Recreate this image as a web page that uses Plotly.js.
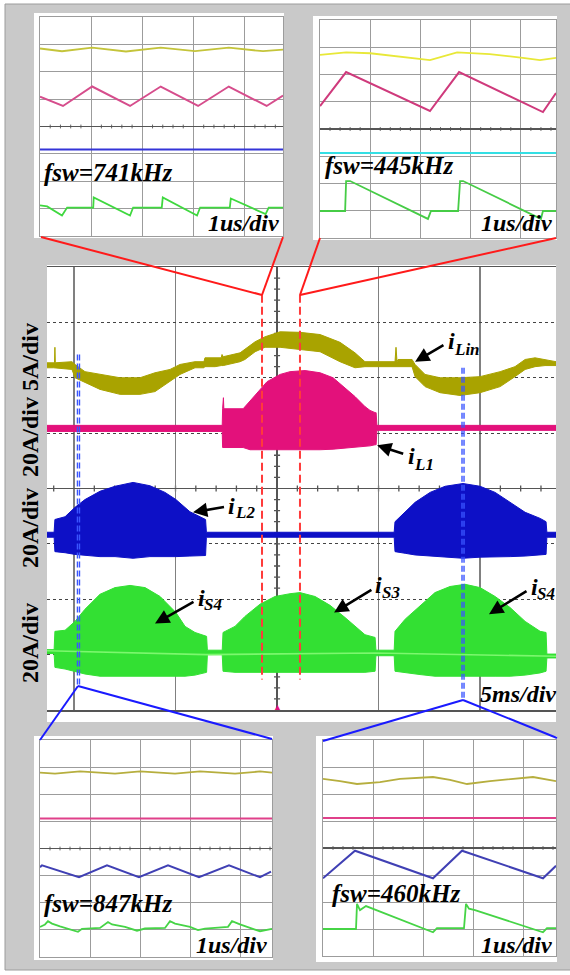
<!DOCTYPE html>
<html><head><meta charset="utf-8">
<script src="https://cdn.plot.ly/plotly-3.0.1.min.js"></script>
<style>html,body{margin:0;padding:0;background:#fff}#c{width:570px;height:975px}</style>
</head><body><div id="c"></div><script>
// ===== MAIN SCREEN: time in ms (5 ms/div, 0 = screen centre), amplitude in divisions =====
// i_Lin (5 A/div) envelope
const linT   = [-11.33,-11.0,-10.96,-10.94,-10.92,-10.10,-9.95,-9.46,-8.72,-7.73,-6.75,-6.01,-5.27,-4.78,-4.04,-3.60,-3.55,-3.05,-2.75,-2.71,-2.65,-1.82,-1.58,-1.08,-0.59,0.15,1.13,2.12,3.10,3.84,4.33,5.81,5.86,5.91,5.96,6.65,6.80,7.29,8.03,9.01,10.00,10.99,11.72,12.22,12.71,13.20,13.74];
const linTop = [2.27,2.27,2.27,2.55,2.27,2.29,2.24,2.11,2.06,2.00,2.00,2.09,2.15,2.24,2.29,2.29,2.36,2.36,2.36,2.42,2.38,2.45,2.51,2.65,2.74,2.83,2.82,2.78,2.64,2.45,2.29,2.29,2.55,2.29,2.33,2.33,2.24,2.06,2.00,2.00,2.02,2.11,2.20,2.33,2.36,2.33,2.29];
const linBot = [2.18,2.18,2.18,2.18,2.18,2.15,2.00,1.91,1.79,1.70,1.70,1.75,1.93,2.06,2.18,2.18,2.20,2.20,2.22,2.22,2.22,2.29,2.33,2.47,2.55,2.55,2.51,2.47,2.29,2.18,2.20,2.20,2.20,2.20,2.20,2.20,2.02,1.84,1.73,1.68,1.73,1.84,2.02,2.15,2.20,2.22,2.22];
// i_L1 (20 A/div) envelope
const l1T   = [-11.33,-2.70,-2.68,-2.64,-2.62,-1.67,-1.33,-0.49,0.15,0.64,1.38,2.12,2.76,3.35,3.84,4.33,4.58,4.83,4.88,4.92,13.74];
const l1Top = [1.14,1.14,1.44,1.64,1.44,1.44,1.58,1.93,2.06,2.11,2.13,2.09,2.00,1.82,1.66,1.48,1.41,1.37,1.37,1.14,1.14];
const l1Bot = [1.03,1.03,0.74,0.74,0.74,0.74,0.70,0.70,0.70,0.70,0.70,0.70,0.71,0.72,0.74,0.76,0.77,0.79,0.79,1.05,1.05];
// i_L2 (20 A/div) envelope
const l2T   = [-11.33,-10.98,-10.94,-10.44,-9.95,-9.46,-8.72,-7.98,-7.09,-6.26,-5.52,-4.98,-4.29,-3.94,-3.52,-3.48,5.77,5.81,6.31,6.80,7.54,8.28,9.16,10.00,10.74,11.48,12.22,12.96,13.25,13.29,13.74];
const l2Top = [-0.79,-0.79,-0.56,-0.51,-0.34,-0.20,-0.05,0.04,0.11,0.05,-0.07,-0.20,-0.42,-0.49,-0.56,-0.79,-0.79,-0.60,-0.42,-0.25,-0.07,0.04,0.09,0.04,-0.07,-0.25,-0.43,-0.54,-0.60,-0.79,-0.79];
const l2Bot = [-0.88,-0.88,-1.14,-1.16,-1.19,-1.21,-1.23,-1.23,-1.26,-1.23,-1.23,-1.23,-1.22,-1.21,-1.21,-0.88,-0.88,-1.14,-1.17,-1.20,-1.23,-1.24,-1.26,-1.24,-1.23,-1.23,-1.22,-1.20,-1.19,-0.88,-0.88];
// i_S4 / i_S3 / i_S4 (20 A/div) envelope
const sT   = [-11.33,-10.98,-10.94,-10.44,-9.95,-9.46,-8.72,-7.98,-7.24,-6.50,-5.76,-4.98,-4.53,-4.04,-3.47,-3.43,-2.70,-2.66,-2.07,-1.58,-0.84,-0.10,0.64,1.13,1.87,2.61,3.35,3.84,4.33,4.83,4.87,5.77,5.81,6.31,7.04,7.78,8.52,9.26,10.00,10.74,11.48,12.22,12.96,13.25,13.29,13.74];
const sTop = [-2.91,-2.91,-2.58,-2.56,-2.40,-2.18,-1.91,-1.79,-1.75,-1.79,-1.95,-2.24,-2.49,-2.60,-2.67,-2.92,-2.92,-2.60,-2.49,-2.31,-2.09,-1.95,-1.90,-1.88,-1.95,-2.11,-2.33,-2.49,-2.64,-2.69,-2.92,-2.92,-2.58,-2.36,-2.13,-1.88,-1.77,-1.73,-1.79,-1.95,-2.15,-2.40,-2.58,-2.60,-2.99,-2.99];
const sBot = [-2.98,-2.98,-3.23,-3.26,-3.30,-3.35,-3.39,-3.39,-3.39,-3.39,-3.39,-3.39,-3.39,-3.37,-3.32,-3.00,-3.00,-3.30,-3.32,-3.32,-3.32,-3.32,-3.32,-3.32,-3.32,-3.32,-3.32,-3.32,-3.32,-3.30,-3.02,-3.02,-3.30,-3.33,-3.36,-3.39,-3.39,-3.39,-3.39,-3.39,-3.39,-3.37,-3.33,-3.30,-3.06,-3.06];
const sMidT = [-11.33,-3.5,4.85,13.74];
const sMid  = [-2.93,-3.00,-2.97,-3.03];

// ===== ZOOM WINDOWS: time in us (1 us/div), amplitude in divisions =====
// top-left, fsw = 741 kHz
const aYT=[0,0.43,1.02,1.68,2.36,3.03,3.69,4.36,4.75], aY=[2.85,2.75,2.88,2.74,2.88,2.75,2.88,2.75,2.81];
const aPT=[0,0.45,1.02,1.76,2.36,3.09,3.69,4.43,4.75], aP=[1.09,0.75,1.46,0.75,1.46,0.75,1.46,0.75,1.13];
const aBT=[0,4.75], aB=[-0.84,-0.84];
const aGT=[0,0.14,0.43,0.53,1.04,1.05,1.76,1.82,2.38,2.40,3.07,3.13,3.71,3.73,4.41,4.47,4.75];
const aG =[-2.88,-2.92,-3.25,-2.96,-2.96,-2.59,-3.25,-2.96,-2.96,-2.59,-3.25,-2.96,-2.96,-2.63,-3.20,-2.96,-2.96];
// top-right, fsw = 445 kHz
const bYT=[0,0.52,1.00,1.73,2.19,2.73,3.38,4.04,4.38,4.70], bY=[2.72,2.81,2.78,2.64,2.53,2.81,2.75,2.61,2.53,2.61];
const bPT=[0,0.52,2.19,2.77,4.44,4.70], bP=[0.84,2.09,0.66,2.09,0.62,1.32];
const bCT=[0,4.70], bC=[-0.88,-0.88];
const bGT=[0,0.50,0.52,0.60,2.15,2.21,2.75,2.79,2.85,4.40,4.44,4.70];
const bG =[-3.01,-3.01,-1.91,-1.91,-3.30,-3.01,-3.01,-1.91,-1.91,-3.30,-3.01,-3.01];
// bottom-left, fsw = 847 kHz
const cYT=[0,0.30,0.80,1.50,2.00,2.70,3.20,3.90,4.40,4.64], cY=[2.80,2.76,2.84,2.76,2.84,2.76,2.84,2.76,2.84,2.80];
const cPT=[0,4.64], cP=[1.11,1.11];
const cBT=[0,0.04,0.78,1.34,1.98,2.56,3.18,3.78,4.40,4.62], cB=[-0.69,-0.62,-1.06,-0.62,-1.06,-0.62,-1.06,-0.62,-1.06,-0.85];
const cGT=[0,0.10,0.16,0.24,0.40,0.64,0.76,0.84,1.20,1.36,1.44,1.70,1.94,2.10,2.50,2.60,2.70,3.00,3.16,3.30,3.76,3.84,4.00,4.30,4.40,4.64];
const cG =[-2.89,-2.80,-2.68,-2.77,-2.87,-3.01,-3.07,-2.96,-2.93,-2.71,-2.80,-2.89,-3.03,-2.95,-2.93,-2.68,-2.77,-2.89,-3.01,-2.95,-2.89,-2.68,-2.80,-2.99,-3.05,-2.96];
// bottom-right, fsw = 460 kHz
const dYT=[0,0.34,0.68,1.14,1.54,2.20,2.54,2.88,3.34,4.20,4.66], dY=[2.56,2.48,2.37,2.44,2.56,2.63,2.52,2.37,2.48,2.63,2.48];
const dPT=[0,4.66], dP=[1.11,1.11];
const dBT=[0,0.64,2.20,2.78,4.40,4.66], dB=[-1.12,-0.10,-1.12,-0.10,-1.12,-0.66];
const dGT=[0,0.66,0.68,0.74,0.86,2.20,2.28,2.82,2.86,2.92,3.04,4.40,4.48,4.66];
const dG =[-3.00,-3.00,-2.07,-2.30,-2.15,-3.12,-2.97,-2.97,-2.07,-2.25,-2.30,-3.12,-2.97,-2.97];

// labels
const fswLabels = ['fsw=741kHz','fsw=445kHz','fsw=847kHz','fsw=460kHz'];
const divLabels = ['20A/div 5A/div','20A/div','20A/div'];
const sigSubs   = ['Lin','L1','L2','S4','S3','S4'];

// ===== drawing =====
const W=570,H=975;
const X=p=>p/W, Y=p=>1-p/H;
const SERIF='"Liberation Serif","Times New Roman",serif';
const C={lin:'#a9a300',l1:'#e3117b',l2:'#0d10c6',s:'#33e033',smid:'#7cf76e'};

function band(t,top,bot,color,xa,ya){
  return {x:t.concat(t.slice().reverse()), y:top.concat(bot.slice().reverse()),
    mode:'lines', fill:'toself', fillcolor:color, line:{color:color,width:1},
    xaxis:xa, yaxis:ya, hoverinfo:'skip'};
}
function line(t,v,color,xa,ya,w){
  return {x:t,y:v,mode:'lines',line:{color:color,width:w||2},xaxis:xa,yaxis:ya,hoverinfo:'skip'};
}
const data=[
  band(linT,linTop,linBot,C.lin,'x','y'),
  band(l1T,l1Top,l1Bot,C.l1,'x','y'),
  band(l2T,l2Top,l2Bot,C.l2,'x','y'),
  band(sT,sTop,sBot,C.s,'x','y'),
  line(sMidT,sMid,C.smid,'x','y',1.6),
  line(aYT,aY,'#c4c43a','x2','y2',1.8), line(aPT,aP,'#d64d8c','x2','y2',2), line(aBT,aB,'#3434d8','x2','y2',2), line(aGT,aG,'#3fd83f','x2','y2',1.8),
  line(bYT,bY,'#e8e838','x3','y3',1.8), line(bPT,bP,'#cf3a7c','x3','y3',2), line(bCT,bC,'#34dfe4','x3','y3',2), line(bGT,bG,'#46cc46','x3','y3',1.8),
  line(cYT,cY,'#b6ae3e','x4','y4',1.8), line(cPT,cP,'#e0408a','x4','y4',2), line(cBT,cB,'#4040b4','x4','y4',2), line(cGT,cG,'#46d446','x4','y4',1.8),
  line(dYT,dY,'#b6ae3e','x5','y5',1.8), line(dPT,dP,'#e0408a','x5','y5',2), line(dBT,dB,'#4040b4','x5','y5',2), line(dGT,dG,'#46d446','x5','y5',1.8)
];

function insetX(d,r){return {domain:d,range:r,tick0:0,dtick:1,showgrid:true,gridcolor:'#9c9c9c',gridwidth:1,
  zeroline:false,showline:true,linecolor:'#9c9c9c',mirror:true,showticklabels:false,ticks:'',fixedrange:true};}
function insetY(d,anchor){return {domain:d,range:[-4,4],tick0:0,dtick:1,showgrid:true,gridcolor:'#9c9c9c',gridwidth:1,
  zeroline:true,zerolinecolor:'#555',zerolinewidth:1.5,showline:true,linecolor:'#9c9c9c',mirror:true,showticklabels:false,ticks:'',anchor:anchor,fixedrange:true};}

const layout={
  width:W,height:H,margin:{l:0,r:0,t:0,b:0},paper_bgcolor:'#ffffff',plot_bgcolor:'rgba(0,0,0,0)',showlegend:false,
  xaxis:{domain:[X(47),X(556)],range:[-11.33,13.74],tick0:0,dtick:5,showgrid:true,gridcolor:'#808080',gridwidth:1.2,
    zeroline:true,zerolinecolor:'#555',zerolinewidth:1.5,showline:true,linecolor:'#555',linewidth:1.5,mirror:true,showticklabels:false,ticks:'',fixedrange:true},
  yaxis:{domain:[Y(710),Y(267)],range:[-4,4],tick0:0,dtick:1,showgrid:true,gridcolor:'#444',gridwidth:1.2,griddash:'dot',
    zeroline:true,zerolinecolor:'#555',zerolinewidth:1.5,showline:false,showticklabels:false,ticks:'',fixedrange:true},
  xaxis2:Object.assign(insetX([X(40),X(283)],[0,4.75]),{anchor:'y2'}), yaxis2:insetY([Y(236),Y(17)],'x2'),
  xaxis3:Object.assign(insetX([X(320),X(556)],[0,4.70]),{anchor:'y3'}), yaxis3:insetY([Y(238),Y(20)],'x3'),
  xaxis4:Object.assign(insetX([X(40),X(272)],[0,4.64]),{anchor:'y4'}), yaxis4:insetY([Y(957),Y(740)],'x4'),
  xaxis5:Object.assign(insetX([X(323),X(556)],[0,4.66]),{anchor:'y5'}), yaxis5:insetY([Y(956),Y(740)],'x5'),
  shapes:[],annotations:[]
};
const S=layout.shapes, A=layout.annotations;
// background frame and white screen panels
S.push({type:'rect',xref:'paper',yref:'paper',x0:X(5),x1:X(590),y0:Y(970),y1:Y(4),fillcolor:'#c9c9c9',line:{color:'#9c9c9c',width:1},layer:'below'});
[[47,265,556,722],[34,13,284,238],[313,16,557,240],[34,736,273,960],[316,736,557,962]].forEach(r=>{
  S.push({type:'rect',xref:'paper',yref:'paper',x0:X(r[0]),x1:X(r[2]),y0:Y(r[3]),y1:Y(r[1]),fillcolor:'#ffffff',line:{width:0},layer:'below'});
});
// graticule tick marks on centre lines
let p='';
for(let k=-19;k<=19;k++){ if(k===0) continue; const v=k*0.2; p+=`M-0.15,${v}L0.15,${v}`; }
for(let k=-11;k<=13;k++){ if(k===0) continue; p+=`M${k},-0.055L${k},0.055`; }
S.push({type:'path',xref:'x',yref:'y',path:p,line:{color:'#555',width:1.3},layer:'below'});
[['x2','y2',4.75],['x3','y3',4.70],['x4','y4',4.64],['x5','y5',4.66]].forEach(a=>{
  let q=''; for(let k=1;k*0.2<a[2];k++){ if(k%5===0) continue; q+=`M${(k*0.2).toFixed(2)},-0.07L${(k*0.2).toFixed(2)},0.07`; }
  S.push({type:'path',xref:a[0],yref:a[1],path:q,line:{color:'#666',width:1},layer:'below'});
});
// dashed markers on main screen
const dashes=[[-0.74,3.50,-3.45,'#ff3b3b',2,'8px,4px'],[1.13,3.50,-3.45,'#ff3b3b',2,'8px,4px'],
  [-9.83,2.42,-3.56,'#3a55ff',1.4,'6px,3px'],[-9.73,2.42,-3.56,'#3a55ff',1.4,'6px,3px'],
  [9.11,2.18,-3.81,'#3a55ff',1.4,'6px,3px'],[9.21,2.18,-3.81,'#3a55ff',1.4,'6px,3px']];
dashes.forEach(d=>S.push({type:'line',xref:'x',yref:'y',x0:d[0],x1:d[0],y0:d[1],y1:d[2],line:{color:d[3],width:d[4],dash:d[5]}}));
// connector lines to zoom windows
[[41,237,262,295,'#ff1a1a'],[283,237,262,295,'#ff1a1a'],[320,238,300,295,'#ff1a1a'],[556,238,300,295,'#ff1a1a'],
 [40,740,78,686,'#1a1aff'],[272,739,78,686,'#1a1aff'],[323,741,463,700,'#1a1aff'],[557,738,463,700,'#1a1aff']].forEach(l=>{
  S.push({type:'line',xref:'paper',yref:'paper',x0:X(l[0]),y0:Y(l[1]),x1:X(l[2]),y1:Y(l[3]),line:{color:l[4],width:2}});
});
// trigger marker
A.push({xref:'x',yref:'y',x:0,y:-3.93,text:'▲',showarrow:false,font:{size:9,color:'#e3117b'}});
// channel scale labels
[[400,divLabels[0]],[528,divLabels[1]],[643,divLabels[2]]].forEach(l=>{
  A.push({xref:'paper',yref:'paper',x:X(30),y:Y(l[0]),text:l[1],textangle:-90,showarrow:false,xanchor:'center',yanchor:'middle',
    font:{family:SERIF,size:24,color:'#000',weight:'bold'}});
});
// signal names: "i" with arrow to its waveform, subscript as its own smaller text
const BI={family:SERIF,size:24,color:'#000',weight:'bold',style:'italic'};
const BIs=Object.assign({},BI,{size:17});
// [i centre t, i centre y, subscript left t, subscript centre y, arrow tip t, arrow tip y]
const names=[[8.57,2.67,8.63,2.51,6.80,2.29],[6.60,0.58,6.66,0.43,4.93,0.78],[-2.22,-0.31,-2.16,-0.43,-4.14,-0.43],
  [-3.74,-1.97,-3.68,-2.09,-6.01,-2.44],[5.02,-1.75,5.08,-1.88,2.81,-2.24],[12.66,-1.77,12.72,-1.90,10.44,-2.27]];
names.forEach((n,i)=>{
  A.push({xref:'x',yref:'y',axref:'x',ayref:'y',x:n[4],y:n[5],ax:n[0],ay:n[1],text:'i',font:BI,showarrow:true,
    arrowhead:2,arrowsize:1.1,arrowwidth:2.6,arrowcolor:'#000',startstandoff:3,xanchor:'center',yanchor:'middle'});
  A.push({xref:'x',yref:'y',x:n[2],y:n[3],text:sigSubs[i],showarrow:false,xanchor:'left',yanchor:'middle',font:BIs});
});
// time-base and switching-frequency labels
A.push({xref:'paper',yref:'paper',x:X(558),y:Y(694),text:'5ms/div',showarrow:false,xanchor:'right',yanchor:'middle',font:BI});
[[42,172,fswLabels[0]],[323,165,fswLabels[1]],[42,903,fswLabels[2]],[330,893,fswLabels[3]]].forEach(l=>{
  A.push({xref:'paper',yref:'paper',x:X(l[0]),y:Y(l[1]),text:l[2],showarrow:false,xanchor:'left',yanchor:'middle',font:Object.assign({},BI,{size:25})});
});
[[281,223],[554,223],[269,945],[554,945]].forEach(l=>{
  A.push({xref:'paper',yref:'paper',x:X(l[0]),y:Y(l[1]),text:'1us/div',showarrow:false,xanchor:'right',yanchor:'middle',font:BI});
});
Plotly.newPlot('c',data,layout,{staticPlot:true,displayModeBar:false});
</script></body></html>
